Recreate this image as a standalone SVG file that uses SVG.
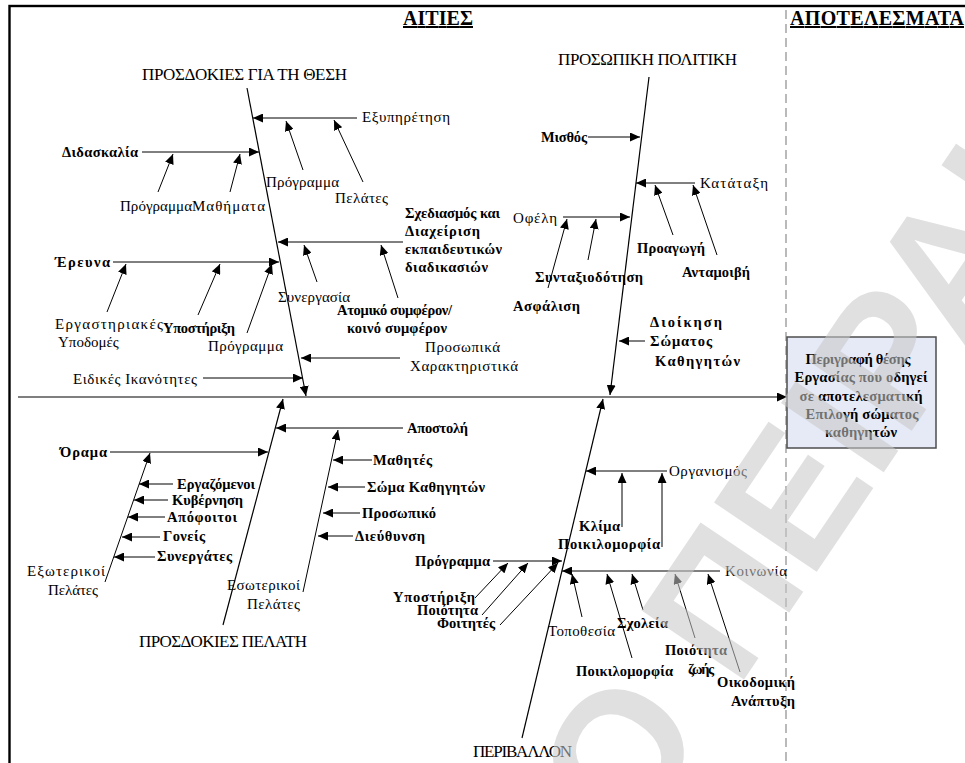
<svg xmlns="http://www.w3.org/2000/svg" width="965" height="763" viewBox="0 0 965 763">
  <defs>
    <marker id="ah" markerUnits="userSpaceOnUse" markerWidth="11" markerHeight="9" refX="10" refY="4.5" orient="auto">
      <path d="M0,0 L10,4.5 L0,9 z" fill="#000"/>
    </marker>
    <style>
      text { font-family: "Times New Roman", "Liberation Serif", serif; fill: #000; }
      .hd { font-size: 20px; font-weight: bold; text-decoration: underline; }
      .ti { font-size: 17px; }
      .lb { font-size: 14.5px; font-weight: bold; }
      .ln { font-size: 15px; }
      .bx { font-size: 14.6px; font-weight: bold; text-anchor: middle; }
      .wm { font-family: "Liberation Sans", Arial, sans-serif; font-weight: bold; font-size: 180px; fill: #c8c8c8; opacity: 0.56; }
      .c line { stroke: #000; stroke-width: 1; marker-end: url(#ah); }
      .c .br { stroke-width: 1.2; }
      .c .sp { stroke: #7f7f7f; stroke-width: 2.2; }
    </style>
  </defs>

  <rect width="965" height="763" fill="#fff"/>

  <!-- page frame and result divider -->
  <rect x="9.5" y="6" width="1000" height="800" fill="none" stroke="#000" stroke-width="2.4"/>
  <line x1="786" y1="10" x2="786" y2="763" stroke="#8c8c8c" stroke-width="1.2" stroke-dasharray="9,5"/>

  <text class="hd" x="403" y="25" textLength="70">ΑΙΤΙΕΣ</text>
  <text class="hd" x="790" y="25" textLength="174">ΑΠΟΤΕΛΕΣΜΑΤΑ</text>

  <!-- connectors -->
  <g id="connectors" class="c">
    <line class="sp" x1="18" y1="397" x2="787" y2="397"/>

    <!-- bone 1 -->
    <line class="br" x1="247" y1="88" x2="306" y2="396"/>
    <line x1="357" y1="118" x2="253" y2="118"/>
    <line x1="303" y1="170" x2="286" y2="121"/>
    <line x1="363" y1="182" x2="334" y2="120"/>
    <line x1="142" y1="152" x2="259" y2="152"/>
    <line x1="158" y1="192" x2="173" y2="154"/>
    <line x1="230" y1="192" x2="240" y2="154"/>
    <line x1="403" y1="242" x2="278" y2="242"/>
    <line x1="317" y1="282" x2="304" y2="245"/>
    <line x1="398" y1="298" x2="381" y2="245"/>
    <line x1="113" y1="262" x2="279" y2="262"/>
    <line x1="107" y1="312" x2="126" y2="264"/>
    <line x1="198" y1="315" x2="220" y2="264"/>
    <line x1="247" y1="333" x2="272" y2="264"/>
    <line x1="400" y1="358" x2="301" y2="358"/>
    <line x1="203" y1="378" x2="303" y2="378"/>

    <!-- bone 2 -->
    <line class="br" x1="649" y1="77" x2="610" y2="395"/>
    <line x1="588" y1="137" x2="640" y2="137"/>
    <line x1="695" y1="183" x2="636" y2="183"/>
    <line x1="673" y1="235" x2="655" y2="185"/>
    <line x1="717" y1="255" x2="693" y2="185"/>
    <line x1="563" y1="217" x2="630" y2="217"/>
    <line x1="548" y1="288" x2="567" y2="219"/>
    <line x1="588" y1="260" x2="596" y2="219"/>
    <line x1="645" y1="341" x2="619" y2="341"/>

    <!-- bone 3 -->
    <line class="br" x1="223" y1="625" x2="283" y2="399"/>
    <line x1="403" y1="428" x2="276" y2="428"/>
    <line x1="303" y1="592" x2="338" y2="430"/>
    <line x1="372" y1="460" x2="333" y2="460"/>
    <line x1="365" y1="487" x2="328" y2="487"/>
    <line x1="360" y1="513" x2="323" y2="513"/>
    <line x1="353" y1="536" x2="318" y2="536"/>
    <line x1="110" y1="452" x2="268" y2="452"/>
    <line x1="105" y1="582" x2="150" y2="453"/>
    <line x1="173" y1="484" x2="139" y2="484"/>
    <line x1="168" y1="500" x2="134" y2="500"/>
    <line x1="165" y1="517" x2="128" y2="517"/>
    <line x1="160" y1="537" x2="122" y2="537"/>
    <line x1="155" y1="557" x2="114" y2="557"/>

    <!-- bone 4 -->
    <line class="br" x1="522" y1="738" x2="603" y2="399"/>
    <line x1="667" y1="471" x2="586" y2="471"/>
    <line x1="622" y1="527" x2="622" y2="473"/>
    <line x1="662" y1="547" x2="662" y2="473"/>
    <line x1="720" y1="571" x2="562" y2="571"/>
    <line x1="582" y1="617" x2="572" y2="574"/>
    <line x1="632" y1="658" x2="607" y2="574"/>
    <line x1="643" y1="610" x2="632" y2="574"/>
    <line x1="695" y1="638" x2="675" y2="574"/>
    <line x1="740" y1="672" x2="708" y2="574"/>
    <line x1="493" y1="561" x2="562" y2="561"/>
    <line x1="475" y1="598" x2="508" y2="563"/>
    <line x1="482" y1="615" x2="528" y2="563"/>
    <line x1="500" y1="625" x2="558" y2="563"/>
  </g>

  <g id="bone-position">
    <text class="ti" x="142" y="80" textLength="205">ΠΡΟΣΔΟΚΙΕΣ ΓΙΑ ΤΗ ΘΕΣΗ</text>
    <text class="ln" x="362" y="122" textLength="88">Εξυπηρέτηση</text>
    <text class="ln" x="266" y="187" textLength="73">Πρόγραμμα</text>
    <text class="ln" x="335" y="203" textLength="53">Πελάτες</text>
    <text class="lb" x="62" y="157" textLength="76">Διδασκαλία</text>
    <text class="ln" x="120" y="211" textLength="72">Πρόγραμμα</text>
    <text class="ln" x="192" y="211" textLength="73">Μαθήματα</text>
    <text class="lb" x="405" y="218" textLength="95">Σχεδιασμός και</text>
    <text class="lb" x="405" y="236" textLength="75">Διαχείριση</text>
    <text class="lb" x="405" y="254" textLength="97">εκπαιδευτικών</text>
    <text class="lb" x="405" y="272" textLength="83">διαδικασιών</text>
    <text class="lb" x="55" y="267" textLength="55">Έρευνα</text>
    <text class="ln" x="278" y="302" textLength="72">Συνεργασία</text>
    <text class="lb" x="337" y="315" textLength="115">Ατομικό συμφέρον/</text>
    <text class="lb" x="347" y="333" textLength="100">κοινό συμφέρον</text>
    <text class="ln" x="55" y="329" textLength="108">Εργαστηριακές</text>
    <text class="ln" x="58" y="347">Υποδομές</text>
    <text class="lb" x="163" y="333" textLength="72">Υποστήριξη</text>
    <text class="ln" x="208" y="351" textLength="75">Πρόγραμμα</text>
    <text class="ln" x="425" y="352" textLength="75">Προσωπικά</text>
    <text class="ln" x="410" y="371" textLength="108">Χαρακτηριστικά</text>
    <text class="ln" x="73" y="384" textLength="124">Ειδικές Ικανότητες</text>
  </g>

  <g id="bone-policy">
    <text class="ti" x="558" y="65" textLength="179">ΠΡΟΣΩΠΙΚΗ ΠΟΛΙΤΙΚΗ</text>
    <text class="lb" x="541" y="142" textLength="46">Μισθός</text>
    <text class="ln" x="700" y="188" textLength="68">Κατάταξη</text>
    <text class="ln" x="513" y="223" textLength="44">Οφέλη</text>
    <text class="lb" x="513" y="311" textLength="67">Ασφάλιση</text>
    <text class="lb" x="535" y="282" textLength="108">Συνταξιοδότηση</text>
    <text class="lb" x="637" y="253" textLength="68">Προαγωγή</text>
    <text class="lb" x="682" y="277" textLength="68">Ανταμοιβή</text>
    <text class="lb" x="650" y="327" textLength="72">Διοίκηση</text>
    <text class="lb" x="650" y="346" textLength="62">Σώματος</text>
    <text class="lb" x="655" y="366" textLength="85">Καθηγητών</text>
  </g>

  <g id="bone-client">
    <text class="ti" x="139" y="647" textLength="168">ΠΡΟΣΔΟΚΙΕΣ ΠΕΛΑΤΗ</text>
    <text class="lb" x="407" y="433" textLength="61">Αποστολή</text>
    <text class="lb" x="373" y="465" textLength="59">Μαθητές</text>
    <text class="lb" x="367" y="492" textLength="118">Σώμα Καθηγητών</text>
    <text class="lb" x="362" y="518" textLength="74">Προσωπικό</text>
    <text class="lb" x="355" y="541" textLength="70">Διεύθυνση</text>
    <text class="lb" x="60" y="457" textLength="47">Όραμα</text>
    <text class="lb" x="177" y="489" textLength="78">Εργαζόμενοι</text>
    <text class="lb" x="172" y="505" textLength="71">Κυβέρνηση</text>
    <text class="lb" x="167" y="522" textLength="70">Απόφοιτοι</text>
    <text class="lb" x="163" y="541" textLength="42">Γονείς</text>
    <text class="lb" x="157" y="561" textLength="75">Συνεργάτες</text>
    <text class="ln" x="27" y="576" textLength="78">Εξωτερικοί</text>
    <text class="ln" x="48" y="595" textLength="50">Πελάτες</text>
    <text class="ln" x="227" y="590" textLength="73">Εσωτερικοί</text>
    <text class="ln" x="247" y="609" textLength="53">Πελάτες</text>
  </g>

  <g id="bone-environment">
    <text class="ti" x="473" y="757" textLength="99">ΠΕΡΙΒΑΛΛΟΝ</text>
    <text class="ln" x="669" y="476" textLength="78">Οργανισμός</text>
    <text class="lb" x="579" y="531" textLength="41">Κλίμα</text>
    <text class="lb" x="558" y="549" textLength="102">Ποικιλομορφία</text>
    <text class="ln" x="725" y="576" textLength="62">Κοινωνία</text>
    <text class="ln" x="548" y="636" textLength="67">Τοποθεσία</text>
    <text class="lb" x="617" y="628" textLength="51">Σχολεία</text>
    <text class="lb" x="576" y="676" textLength="97">Ποικιλομορφία</text>
    <text class="lb" x="665" y="655" textLength="62">Ποιότητα</text>
    <text class="lb" x="688" y="674" textLength="26">ζωής</text>
    <text class="lb" x="717" y="687" textLength="78">Οικοδομική</text>
    <text class="lb" x="731" y="706" textLength="64">Ανάπτυξη</text>
    <text class="lb" x="415" y="566" textLength="75">Πρόγραμμα</text>
    <text class="lb" x="393" y="602" textLength="82">Υποστήριξη</text>
    <text class="lb" x="417" y="615" textLength="61">Ποιότητα</text>
    <text class="lb" x="437" y="628" textLength="58">Φοιτητές</text>
  </g>

  <g id="result">
    <rect x="787" y="337" width="149" height="111" fill="#e6eaf6" stroke="#4d4d4d" stroke-width="1.5"/>
    <text class="bx" x="858" y="364" textLength="105">Περιγραφή θέσης</text>
    <text class="bx" x="861" y="382" textLength="133">Εργασίας που οδηγεί</text>
    <text class="bx" x="861" y="401" textLength="123">σε αποτελεσματική</text>
    <text class="bx" x="862" y="419" textLength="113">Επιλογή σώματος</text>
    <text class="bx" x="861" y="437" textLength="72">καθηγητών</text>
  </g>

  <!-- faint diagonal page watermark -->
  <text class="wm" transform="translate(631,847) rotate(-56)">Ο ΠΕΙΡΑΙΑ</text>
</svg>
